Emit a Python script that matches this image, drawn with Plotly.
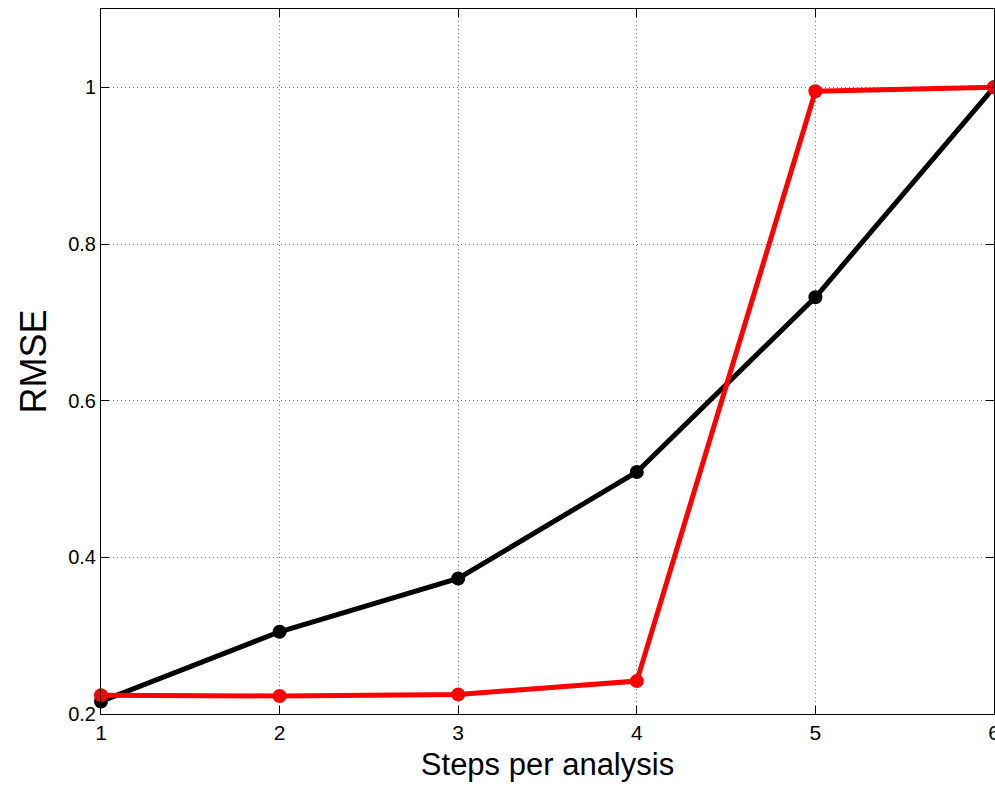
import plotly.graph_objects as go

steps = [1, 2, 3, 4, 5, 6]
rmse_black = [0.216, 0.305, 0.373, 0.509, 0.732, 1.0]
rmse_red = [0.224, 0.223, 0.225, 0.242, 0.995, 1.0]
xtick_vals = [1, 2, 3, 4, 5, 6]
ytick_vals = [0.2, 0.4, 0.6, 0.8, 1.0]
ytick_text = ["0.2", "0.4", "0.6", "0.8", "1"]

fig = go.Figure()
fig.add_trace(go.Scatter(x=steps, y=rmse_black, mode="lines+markers",
                         line=dict(color="black", width=5),
                         marker=dict(color="black", size=14),
                         showlegend=False, cliponaxis=False))
fig.add_trace(go.Scatter(x=steps, y=rmse_red, mode="lines+markers",
                         line=dict(color="#ff0000", width=5),
                         marker=dict(color="#ff0000", size=14),
                         showlegend=False, cliponaxis=False))

font = "Liberation Sans, Arial, sans-serif"
fig.update_layout(
    width=995, height=792,
    margin=dict(l=101, r=1, t=9, b=78, autoexpand=False),
    paper_bgcolor="white", plot_bgcolor="white",
    font=dict(family=font, color="black"),
)
fig.update_xaxes(
    range=[1, 6], tickvals=xtick_vals, ticks="inside", ticklen=8,
    tickcolor="black", tickfont=dict(size=21), ticklabeloverflow="allow",
    automargin=False,
    showline=True, linecolor="black", linewidth=1, mirror="ticks",
    showgrid=True, gridcolor="#777777", griddash="1px,3px", gridwidth=1,
    zeroline=False,
    title=dict(text="Steps per analysis", font=dict(size=31), standoff=10),
)
fig.update_yaxes(
    range=[0.2, 1.1], tickvals=ytick_vals, ticktext=ytick_text, ticks="inside", ticklen=8,
    tickcolor="black", tickfont=dict(size=20), automargin=False,
    showline=True, linecolor="black", linewidth=1, mirror="ticks",
    showgrid=True, gridcolor="#777777", griddash="1px,3px", gridwidth=1,
    zeroline=False,
    title=dict(text="RMSE", font=dict(size=36, family="Liberation Sans Narrow, Liberation Sans, Arial, sans-serif"), standoff=10),
)
fig.write_html("out.html")
